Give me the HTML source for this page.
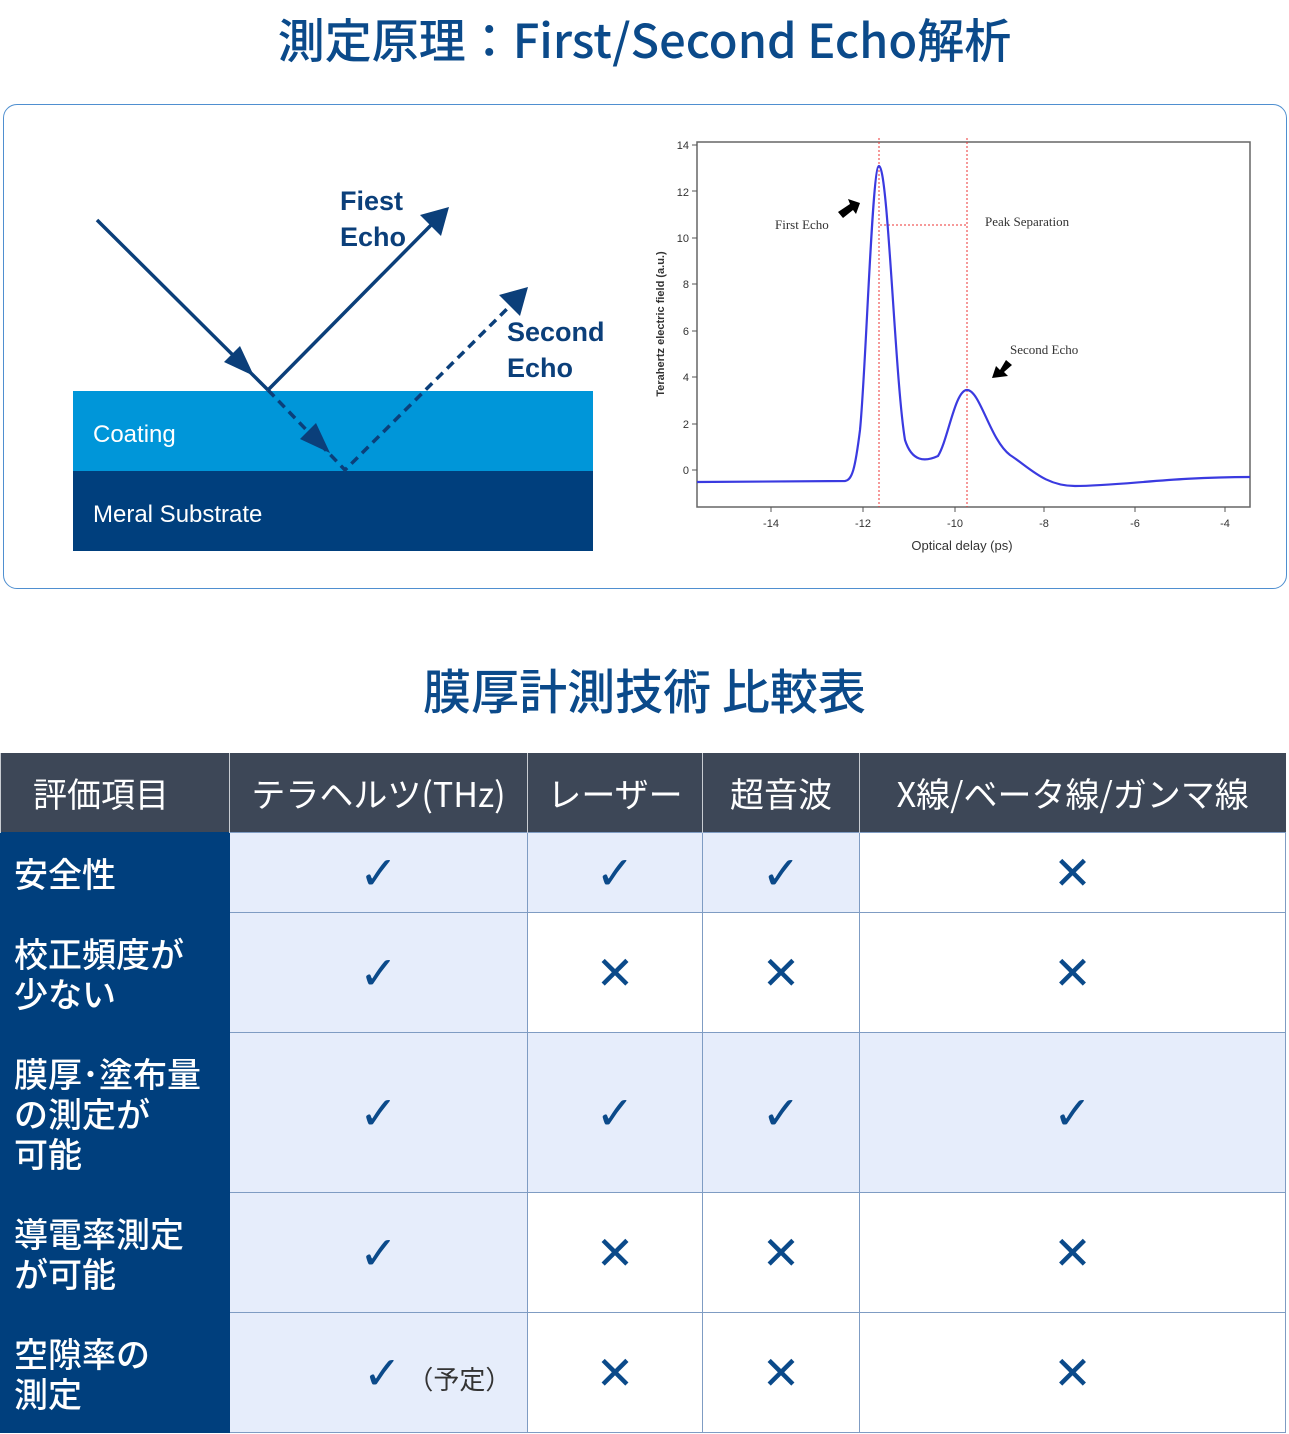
<!DOCTYPE html>
<html><head><meta charset="utf-8"><style>
body{margin:0;width:1289px;height:1434px;background:#fff;position:relative;overflow:hidden;font-family:"Liberation Sans","Noto Sans CJK JP",sans-serif}
.t{position:absolute;left:0;width:1289px;text-align:center;color:#0b4a8a;font-family:"Noto Sans CJK JP",sans-serif;font-weight:500}
.box{position:absolute;left:3px;top:104px;width:1282px;height:483px;border:1px solid #4f8fd0;border-radius:14px}
table{position:absolute;left:0;top:753px;border-collapse:collapse;font-family:"Noto Sans CJK JP",sans-serif;table-layout:fixed;width:1285px}
td{padding:0;border:1px solid #7f9cc3;text-align:center;font-size:34px;color:#0b3f7a}
th{background:#3d4757;color:#fff;font-weight:400;font-size:34px;border-left:1px solid #c8ccd2;height:79px;padding:0;white-space:nowrap}
td.h{background:#003f7d;color:#fff;text-align:left;font-size:34px;line-height:40px;padding-left:13px;font-weight:500;border-color:#003f7d}
.l{background:#e6edfb}
.c{font-family:"DejaVu Sans",sans-serif;font-size:46px;font-weight:bold;color:#0b4a8a}
</style></head><body>
<div class="t" style="top:3px;font-size:47px">測定原理：First/Second Echo解析</div>
<div class="box"></div>
<svg style="position:absolute;left:0;top:0" width="1289" height="600">
<rect x="73" y="391" width="520" height="80" fill="#0096d9"/>
<rect x="73" y="471" width="520" height="80" fill="#003f7d"/>
<text x="93" y="442" font-size="24" fill="#fff" font-family="Liberation Sans">Coating</text>
<text x="93" y="522" font-size="24" fill="#fff" font-family="Liberation Sans">Meral Substrate</text>
<g stroke="#0b3f7a" stroke-width="3.5" fill="none">
<line x1="97" y1="220" x2="268" y2="390"/>
<line x1="268" y1="390" x2="440" y2="216"/>
<polyline points="268,390 345,470 520,296" stroke-dasharray="9,6"/>
</g>
<g fill="#0b3f7a">
<polygon points="254,376 224,362 240,346"/>
<polygon points="449,207 441,236 420,215"/>
<polygon points="330,453 300,439 316,423"/>
<polygon points="528,287 520,316 499,295"/>
</g>
<g font-size="27" fill="#0b3f7a" font-family="Liberation Sans" font-weight="600">
<text x="340" y="210">Fiest</text><text x="340" y="246">Echo</text>
<text x="507" y="341">Second</text><text x="507" y="377">Echo</text></g>
<rect x="697" y="142" width="553" height="365" fill="none" stroke="#666" stroke-width="1.5"/>
<g font-size="11" fill="#333" font-family="Liberation Sans" text-anchor="end">
<text x="689" y="149">14</text><text x="689" y="196">12</text><text x="689" y="242">10</text><text x="689" y="288">8</text><text x="689" y="335">6</text><text x="689" y="381">4</text><text x="689" y="428">2</text><text x="689" y="474">0</text></g>
<g font-size="11" fill="#333" font-family="Liberation Sans" text-anchor="middle">
<text x="771" y="527">-14</text><text x="863" y="527">-12</text><text x="955" y="527">-10</text><text x="1044" y="527">-8</text><text x="1135" y="527">-6</text><text x="1225" y="527">-4</text>
<text x="962" y="550" font-size="13">Optical delay (ps)</text>
<text transform="translate(664,324) rotate(-90)" font-size="11" font-weight="bold">Terahertz electric field (a.u.)</text></g>
<g stroke="#555" stroke-width="1">
<path d="M697,145h-5M697,191h-5M697,238h-5M697,284h-5M697,331h-5M697,377h-5M697,424h-5M697,470h-5M771,507v5M863,507v5M955,507v5M1044,507v5M1135,507v5M1225,507v5"/></g>
<g stroke="#e33" stroke-width="1" stroke-dasharray="2,2"><line x1="879" y1="138" x2="879" y2="507"/><line x1="967" y1="138" x2="967" y2="507"/><line x1="880" y1="225" x2="966" y2="225"/></g>
<path d="M697,482 L845,481 C852,480 855,470 860,430 C866,370 872,166 879,166 C888,166 895,380 905,440 C912,462 925,462 938,456 C948,440 955,390 967,390 C980,390 990,440 1010,455 C1030,468 1045,486 1075,486 C1120,486 1170,477 1250,477" fill="none" stroke="#3a3ae0" stroke-width="2.2"/>
<g font-family="Liberation Serif" font-size="13" fill="#333"><text x="775" y="229">First Echo</text><text x="985" y="226">Peak Separation</text><text x="1010" y="354">Second Echo</text></g>
<polygon points="838,212 850,204 848,199 860,203 856,214 853,210 843,218" fill="#000"/>
<polygon points="992,378 996,366 1000,370 1006,360 1012,365 1004,372 1008,376" fill="#000"/>
</svg>
<div class="t" style="top:653px;font-size:48px">膜厚計測技術 比較表</div>
<table>
<colgroup><col style="width:229px"><col style="width:298px"><col style="width:175px"><col style="width:157px"><col style="width:426px"></colgroup>
<tr><th style="text-align:left;padding-left:32px">評価項目</th><th>テラヘルツ(THz)</th><th>レーザー</th><th>超音波</th><th>X線/ベータ線/ガンマ線</th></tr>
<tr style="height:80px"><td class="h">安全性</td><td class="l c">✓</td><td class="l c">✓</td><td class="l c">✓</td><td class="c">✕</td></tr>
<tr style="height:120px"><td class="h">校正頻度が<br>少ない</td><td class="l c">✓</td><td class="c">✕</td><td class="c">✕</td><td class="c">✕</td></tr>
<tr style="height:160px"><td class="h">膜厚･塗布量<br>の測定が<br>可能</td><td class="l c">✓</td><td class="l c">✓</td><td class="l c">✓</td><td class="l c">✓</td></tr>
<tr style="height:120px"><td class="h">導電率測定<br>が可能</td><td class="l c">✓</td><td class="c">✕</td><td class="c">✕</td><td class="c">✕</td></tr>
<tr style="height:120px"><td class="h">空隙率の<br>測定</td><td class="l" style="text-align:left;padding-left:133px"><span class="c">✓</span><span style="font-size:26px;color:#333"> （予定）</span></td><td class="c">✕</td><td class="c">✕</td><td class="c">✕</td></tr>
</table>
</body></html>
